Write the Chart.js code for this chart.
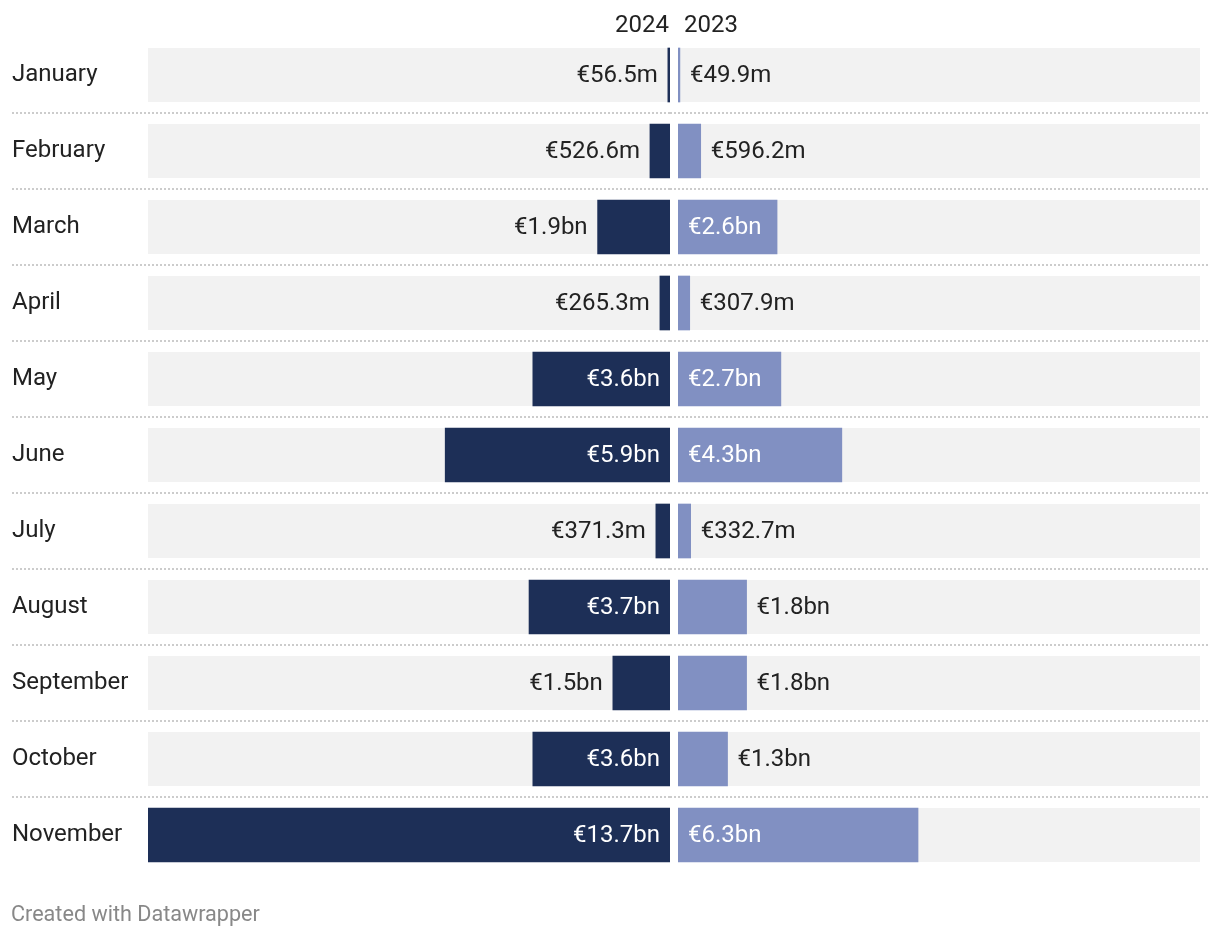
<!DOCTYPE html>
<html>
<head>
<meta charset="utf-8">
<script src="https://cdn.jsdelivr.net/npm/chart.js@4"></script>
<style>
  body { margin: 0; background: #fff; font-family: Roboto, sans-serif; }
  #wrap { position: relative; width: 1220px; height: 938px; }
  #left { position: absolute; left: 0; top: 0; }
  #right { position: absolute; left: 670px; top: 0; }
  .hdr { position: absolute; top: 12px; font-size: 24px; line-height: 24px; color: #222; }
  #h24 { right: 551px; }
  #h23 { left: 684px; }
  #foot { position: absolute; left: 11px; top: 903px; font-size: 21.6px; line-height: 21.6px; color: #888; }
</style>
</head>
<body>
<div id="wrap">
  <canvas id="left" width="670" height="938"></canvas>
  <canvas id="right" width="550" height="938"></canvas>
  <div class="hdr" id="h24">2024</div>
  <div class="hdr" id="h23">2023</div>
  <div id="foot">Created with Datawrapper</div>
</div>
<script>
// values in € million
var months = ['January','February','March','April','May','June','July','August','September','October','November'];
var y2024 = [56.5, 526.6, 1900, 265.3, 3600, 5900, 371.3, 3700, 1500, 3600, 13700];
var y2023 = [49.9, 596.2, 2600, 307.9, 2700, 4300, 332.7, 1800, 1800, 1300, 6300];

var dark = '#1d2f57';
var light = '#8190c2';
var maxVal = Math.max.apply(null, y2024.concat(y2023));

function fmt(v) {
  if (v < 1000) return '€' + v.toFixed(1) + 'm';
  return '€' + (v / 1000).toFixed(1) + 'bn';
}

// grey row background + dotted separators + value labels
function rowPlugin(sepFrom, sepTo) {
  return {
    id: 'rows',
    beforeDatasetsDraw: function(chart) {
      var ctx = chart.ctx, a = chart.chartArea, ys = chart.scales.y;
      var step = ys.getPixelForValue(1) - ys.getPixelForValue(0);
      ctx.save();
      for (var i = 0; i < months.length; i++) {
        var yc = ys.getPixelForValue(i);
        ctx.fillStyle = '#f2f2f2';
        ctx.fillRect(a.left, yc - 27, a.right - a.left, 54);
        if (i < months.length - 1) {
          ctx.strokeStyle = '#cccccc';
          ctx.lineWidth = 2;
          ctx.setLineDash([2, 2]);
          ctx.beginPath();
          ctx.moveTo(sepFrom, Math.round(yc + step / 2));
          ctx.lineTo(sepTo, Math.round(yc + step / 2));
          ctx.stroke();
        }
      }
      ctx.restore();
    },
    afterDatasetsDraw: function(chart) {
      var ctx = chart.ctx, xs = chart.scales.x, ys = chart.scales.y;
      var data = chart.data.datasets[0].data;
      var rev = xs.options.reverse;
      ctx.save();
      ctx.font = '24px Roboto';
      ctx.textBaseline = 'middle';
      for (var i = 0; i < data.length; i++) {
        var txt = fmt(data[i]);
        var w = ctx.measureText(txt).width;
        var x0 = xs.getPixelForValue(0), x1 = xs.getPixelForValue(data[i]);
        var len = Math.abs(x1 - x0);
        var yc = ys.getPixelForValue(i) + 1;
        var inside = w + 20 <= len;
        ctx.fillStyle = inside ? '#fff' : '#222';
        if (rev) {
          ctx.textAlign = 'right';
          ctx.fillText(txt, inside ? x0 - 10 : x1 - 10, yc);
        } else {
          ctx.textAlign = 'left';
          ctx.fillText(txt, inside ? x0 + 10 : x1 + 10, yc);
        }
      }
      ctx.restore();
    }
  };
}

function makeChart(id, vals, color, isLeft) {
  var yAxis = { display: false };
  if (isLeft) {
    yAxis = {
      grid: { display: false },
      border: { display: false },
      afterFit: function(s) { s.width = 136; },
      ticks: { crossAlign: 'far', color: '#222', font: { family: 'Roboto', size: 24 }, padding: 0 }
    };
  }
  return new Chart(document.getElementById(id), {
    type: 'bar',
    data: {
      labels: months,
      datasets: [{ data: vals, backgroundColor: color, barThickness: 54 }]
    },
    options: {
      indexAxis: 'y',
      responsive: false,
      animation: false,
      events: [],
      layout: { padding: isLeft ? { left: 12, top: 37, bottom: 65, right: 0 } : { left: 8, top: 37, bottom: 65, right: 20 } },
      plugins: { legend: { display: false }, tooltip: { enabled: false } },
      scales: {
        x: { display: false, min: 0, max: maxVal, reverse: isLeft },
        y: yAxis
      }
    },
    plugins: [isLeft ? rowPlugin(12, 670) : rowPlugin(0, 538)]
  });
}

makeChart('left', y2024, dark, true);
makeChart('right', y2023, light, false);
</script>
</body>
</html>
